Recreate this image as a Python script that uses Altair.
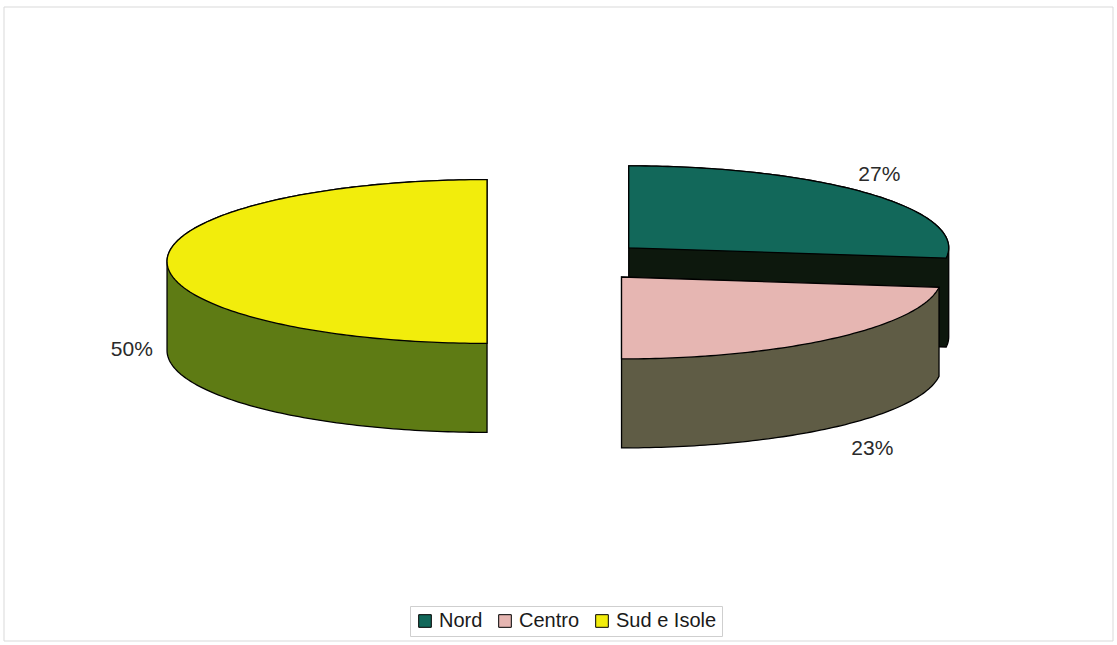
import math
import altair as alt
import pandas as pd

# ---- data ----
regions = ["Nord", "Centro", "Sud e Isole"]
shares = [27, 23, 50]
labels = ["27%", "23%", "50%"]

# ---- styles ----
top_colors = ["#12685a", "#e6b6b2", "#f2ed0c"]
side_colors = ["#0d180d", "#5f5c45", "#5e7b14"]

TILT = 0.256      # vertical squash of the ellipse
DEPTH = 0.278     # thickness of the pie
EXPLODE = 0.253   # explosion distance
START = 90.0      # first slice starts at 12 o'clock, clockwise
FONT = "Liberation Sans"


def proj_pt(cx, cy, ang, r=1.0):
    a = math.radians(ang)
    return (cx + r * math.cos(a), cy + TILT * r * math.sin(a))


def hull(points):
    pts = sorted(set(points))
    if len(pts) <= 2:
        return pts

    def cross(o, a, b):
        return (a[0] - o[0]) * (b[1] - o[1]) - (a[1] - o[1]) * (b[0] - o[0])

    lower, upper = [], []
    for p in pts:
        while len(lower) >= 2 and cross(lower[-2], lower[-1], p) <= 0:
            lower.pop()
        lower.append(p)
    for p in reversed(pts):
        while len(upper) >= 2 and cross(upper[-2], upper[-1], p) <= 0:
            upper.pop()
        upper.append(p)
    return lower[:-1] + upper[:-1]


def feature(coords, region, color):
    ring = [[round(x, 5), round(y, 5)] for x, y in coords]
    ring.append(ring[0])
    return {
        "type": "Feature",
        "properties": {"region": region, "fillc": color},
        "geometry": {"type": "Polygon", "coordinates": [ring]},
    }


total = float(sum(shares))
walls, tops, lab_rows = [], [], []
ang = START
for reg, val, lab, tc, sc in zip(regions, shares, labels, top_colors, side_colors):
    span = 360.0 * val / total
    a0, a1 = ang, ang - span
    mid = (a0 + a1) / 2.0
    cx, cy = proj_pt(0.0, 0.0, mid, EXPLODE)
    n = max(int(span), 2)
    arc = [proj_pt(cx, cy, a0 + (a1 - a0) * i / n) for i in range(n + 1)]
    top_poly = [(cx, cy)] + arc
    bottom_poly = [(x, y - DEPTH) for x, y in top_poly]
    walls.append(feature(hull(top_poly + bottom_poly), reg, sc))
    tops.append(feature(top_poly, reg, tc))
    s = math.sin(math.radians(mid))
    r_lab = 1.11 - 0.1 * s
    lx = cx + r_lab * math.cos(math.radians(mid))
    ly = cy + TILT * 1.35 * s - (DEPTH if s < 0.1 else 0.0)
    lab_rows.append({"region": reg, "label": lab, "lon": lx, "lat": ly})
    ang = a1

projection = dict(type="identity", scale=320, translate=[568, 261.5], reflectY=True)

wall_layer = alt.Chart(
    alt.InlineData(values={"type": "FeatureCollection", "features": walls},
                   format=alt.DataFormat(property="features", type="json"))
).mark_geoshape(stroke="black", strokeWidth=1.3).encode(
    fill=alt.Fill("properties.fillc:N", scale=None)
).project(**projection)

top_layer = alt.Chart(
    alt.InlineData(values={"type": "FeatureCollection", "features": tops},
                   format=alt.DataFormat(property="features", type="json"))
).mark_geoshape(stroke="black", strokeWidth=1.3).encode(
    color=alt.Color(
        "properties.region:N",
        scale=alt.Scale(domain=regions, range=top_colors),
        sort=regions,
        legend=alt.Legend(
            title=None,
            orient="none",
            legendX=410,
            legendY=606,
            direction="horizontal",
            symbolType="square",
            symbolSize=160,
            symbolStrokeColor="black",
            symbolStrokeWidth=1,
            symbolOpacity=1,
            labelFont=FONT,
            labelFontSize=20,
            labelColor="#1a1a1a",
            labelOffset=4,
            columnPadding=12,
            padding=5,
            strokeColor="#cfcfcf",
            fillColor="white",
        ),
    )
).project(**projection)

text_layer = alt.Chart(pd.DataFrame(lab_rows)).mark_text(
    font=FONT, fontSize=21, color="#2a2a2a", align="center", baseline="middle"
).encode(
    longitude="lon:Q",
    latitude="lat:Q",
    text="label:N",
).project(**projection)

frame = alt.Chart(pd.DataFrame({"k": [0]})).mark_rect(
    fill="white", stroke="#d9d9d9", strokeWidth=1
).encode(
    x=alt.value(4), x2=alt.value(1113), y=alt.value(7), y2=alt.value(641)
)

chart = alt.layer(frame, wall_layer, top_layer, text_layer).properties(
    width=1117, height=645, padding=0, autosize="none", background="white"
).configure_view(stroke=None)

chart.save("out.html", embed_options={"renderer": "svg", "actions": False})
